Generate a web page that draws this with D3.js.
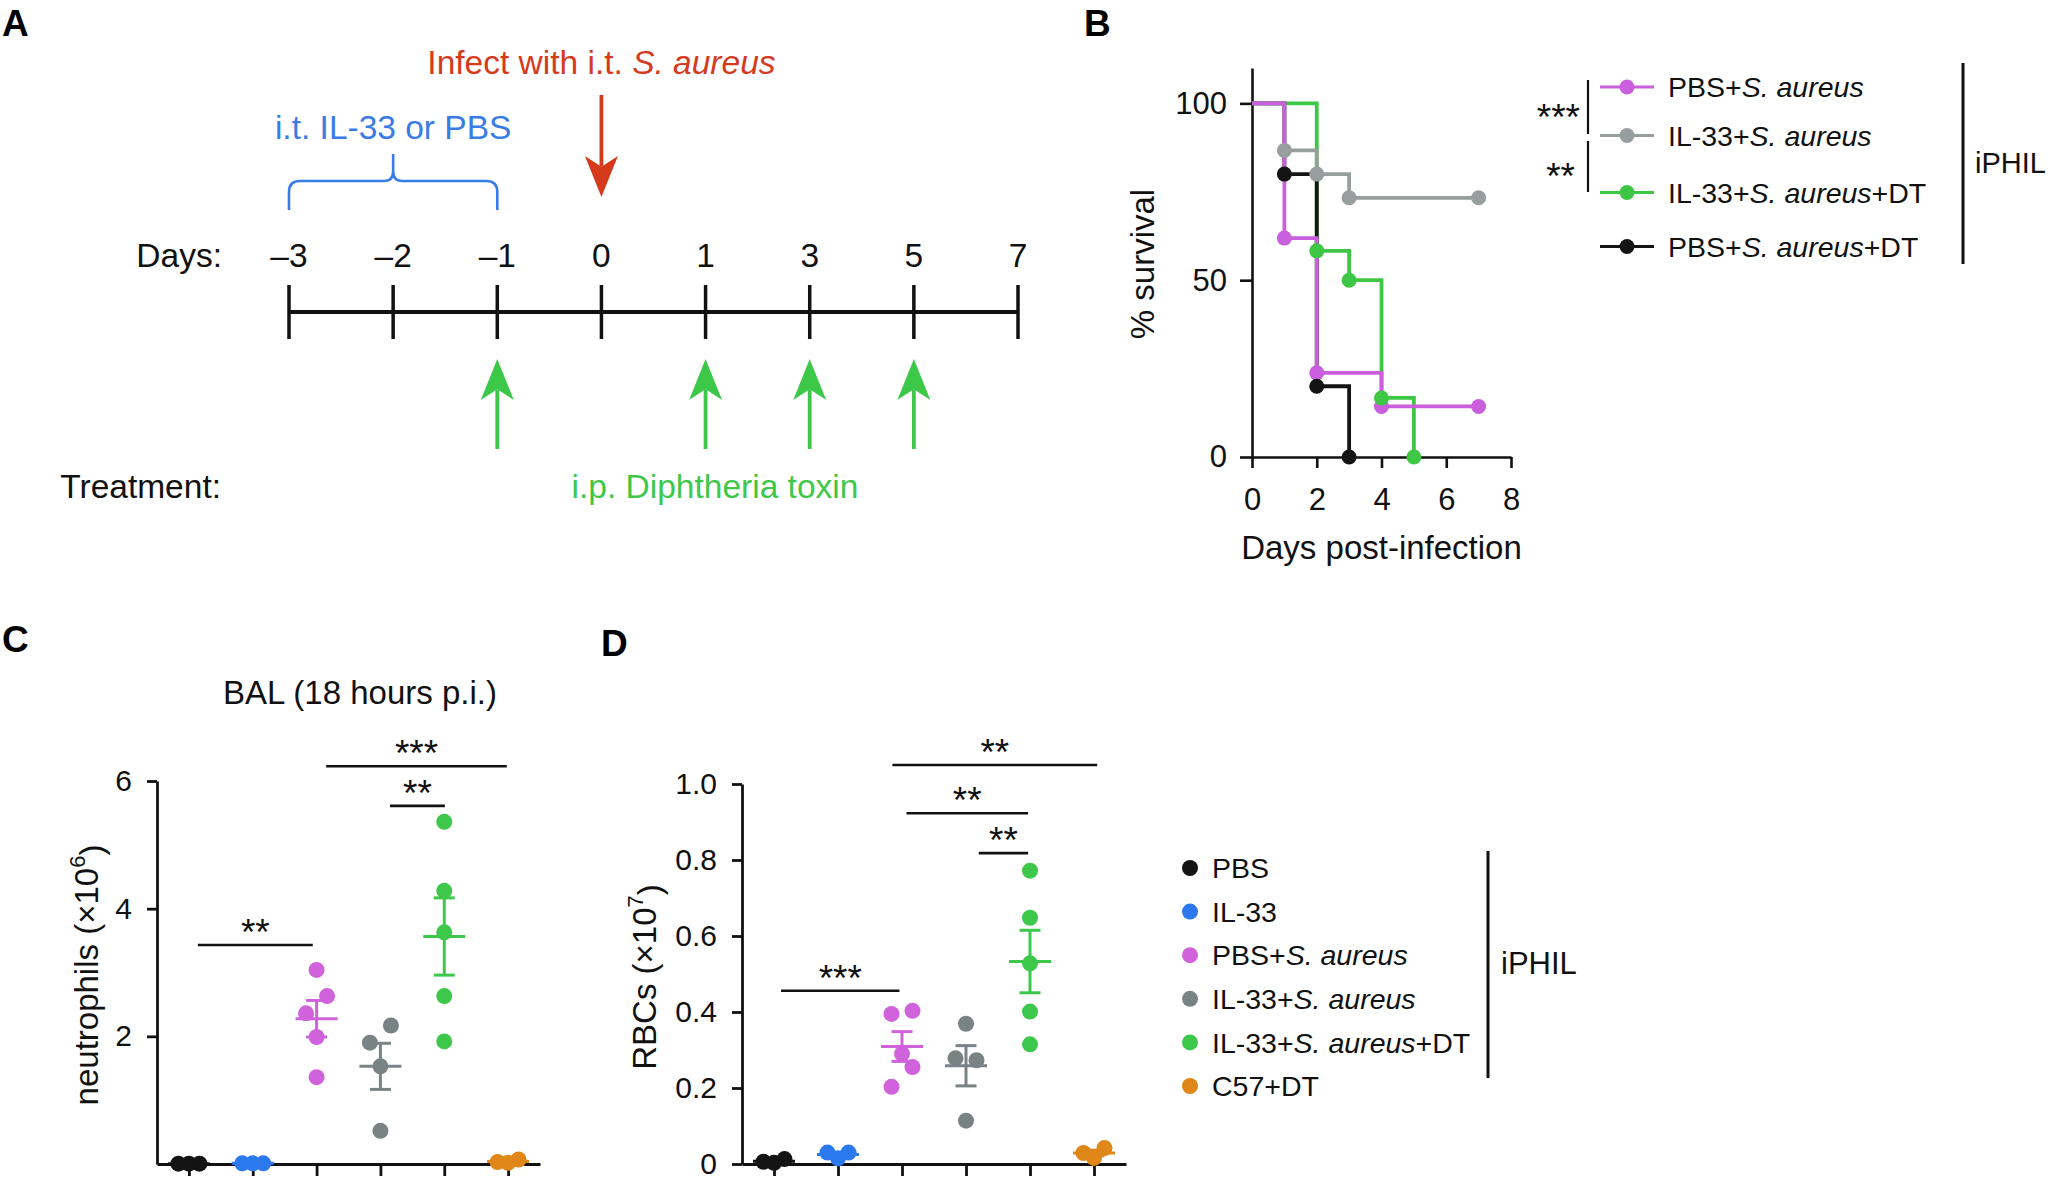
<!DOCTYPE html>
<html><head><meta charset="utf-8"><title>IL-33 / S. aureus figure</title>
<script src="https://cdn.jsdelivr.net/npm/d3@7/dist/d3.min.js"></script>
<style>
html,body{margin:0;padding:0;background:#fff;}
svg{display:block;font-family:"Liberation Sans",Arial,Helvetica,sans-serif;}
</style></head>
<body>
<svg id="fig" width="2048" height="1183" viewBox="0 0 2048 1183"></svg>
<script>
// ================= DATA =================
// Panel A – timeline
const timelineDays = ["–3","–2","–1","0","1","3","5","7"];
const il33Days = ["–3","–1"];
const infectionDay = "0";
const dtDays = ["–1","1","3","5"];

// Panel B – survival (day, % survival)
const survivalGroups = ["PBS+S. aureus","IL-33+S. aureus","IL-33+S. aureus+DT","PBS+S. aureus+DT"];
const survivalPBS    = [[0,100],[1,61.9],[2,23.8],[4,14.3],[7,14.3]];
const survivalIL33   = [[0,100],[1,86.7],[2,80.0],[3,73.3],[7,73.3]];
const survivalIL33DT = [[0,100],[2,58.3],[3,50.0],[4,16.7],[5,0]];
const survivalPBSDT  = [[0,100],[1,80.0],[2,20.0],[3,0]];
const survivalXTicks = [0,2,4,6,8];
const survivalYTicks = [0,50,100];
const survivalSig = [{rows:[0,1],label:"***"},{rows:[1,2],label:"**"}];

// Panels C/D – groups
const groups = ["PBS","IL-33","PBS+S. aureus","IL-33+S. aureus","IL-33+S. aureus+DT","C57+DT"];

// Panel C – neutrophils (x10^6)
const neutPBS      = [0.005,0.005,0.005];
const neutIL33     = [0.01,0.01,0.01];
const neutPBSSa    = [3.04,2.36,2.63,1.99,1.36];
const neutIL33Sa   = [1.90,2.17,1.53,0.52];
const neutIL33SaDT = [5.36,4.28,3.63,2.63,1.92];
const neutC57DT    = [0.03,0.07,0.02];
const neutTicks = [2,4,6];
const neutSig = [
  {from:0.14,to:1.94,level:3.43,label:"**"},
  {from:2.15,to:4.98,level:6.23,label:"***"},
  {from:3.15,to:4.01,level:5.61,label:"**"}
];

// Panel D – RBCs (x10^7)
const rbcPBS      = [0.006,0.013,0.003];
const rbcIL33     = [0.030,0.030,0.015];
const rbcPBSSa    = [0.203,0.255,0.290,0.395,0.403];
const rbcIL33Sa   = [0.369,0.278,0.273,0.114];
const rbcIL33SaDT = [0.772,0.648,0.528,0.401,0.315];
const rbcC57DT    = [0.029,0.042,0.016];
const rbcTicks = [0,0.2,0.4,0.6,0.8,1.0];
const rbcSig = [
  {from:0.11,to:1.96,level:0.456,label:"***"},
  {from:1.85,to:5.05,level:1.05,label:"**"},
  {from:2.07,to:3.97,level:0.923,label:"**"},
  {from:3.20,to:3.97,level:0.818,label:"**"}
];

// ================= STYLE =================
const colGroup = ["#141414","#2c79ee","#d062dc","#7a8383","#3ec84b","#e0871a"];
const colSurv  = ["#c95fdc","#989d9d","#3ec744","#141414"];
const RED = "#d63a1d", BLUE = "#3a7ce6", GREEN = "#3dc84a";

const svg = d3.select("#fig");
const cap = (c, fs) => c + 0.358*fs;      // baseline for a given cap-centre
const star = (c, fs) => c + 0.59*fs;      // baseline for asterisks centred at c

function richText(g, str, x, yBase, fs, anchor, fill){
  const t = g.append("text").attr("x",x).attr("y",yBase).attr("font-size",fs)
    .attr("text-anchor",anchor||"start").attr("fill",fill||"#111");
  const parts = str.split("S. aureus");
  parts.forEach((seg,i)=>{
    if(seg) t.append("tspan").text(seg);
    if(i<parts.length-1) t.append("tspan").attr("font-style","italic").text("S. aureus");
  });
  return t;
}
function panelLabel(txt,x,c){
  svg.append("text").attr("x",x).attr("y",cap(c,37)).attr("font-size",37)
    .attr("font-weight","bold").attr("fill","#000").text(txt);
}

// ================= PANEL A =================
(function(){
  const g = svg.append("g");
  const fs = 33.5;
  const x = d3.scalePoint().domain(timelineDays).range([289,1018]);
  const lineY = 312;
  g.append("line").attr("x1",x(timelineDays[0])).attr("x2",x(timelineDays[timelineDays.length-1]))
    .attr("y1",lineY).attr("y2",lineY).attr("stroke","#111").attr("stroke-width",4);
  g.selectAll(".tk").data(timelineDays).join("line")
    .attr("x1",d=>x(d)).attr("x2",d=>x(d)).attr("y1",285).attr("y2",339)
    .attr("stroke","#111").attr("stroke-width",3.5);
  g.selectAll(".tl").data(timelineDays).join("text")
    .attr("x",d=>x(d)).attr("y",cap(255,fs)).attr("font-size",fs).attr("text-anchor","middle")
    .attr("fill","#111").text(d=>d);
  g.append("text").attr("x",222).attr("y",cap(255,fs)).attr("font-size",fs).attr("text-anchor","end")
    .attr("fill","#111").text("Days:");
  g.append("text").attr("x",221).attr("y",cap(486,fs)).attr("font-size",fs).attr("text-anchor","end")
    .attr("fill","#111").text("Treatment:");

  // blue brace over IL-33 days
  const x1 = x(il33Days[0]), x2 = x(il33Days[1]), xm = (x1+x2)/2;
  const by = 181;
  const brace = `M${x1},210 V${by+11} Q${x1},${by} ${x1+11},${by} H${xm-9} Q${xm},${by} ${xm},${by-10} V154`
              + ` M${xm},154 V${by-10} Q${xm},${by} ${xm+9},${by} H${x2-11} Q${x2},${by} ${x2},${by+11} V210`;
  g.append("path").attr("d",brace).attr("fill","none").attr("stroke",BLUE).attr("stroke-width",2.6);
  g.append("text").attr("x",xm).attr("y",cap(127,fs)).attr("font-size",fs).attr("text-anchor","middle")
    .attr("fill",BLUE).text("i.t. IL-33 or PBS");

  // arrows
  function arrow(cx, tipY, dir, shaftEnd, color){
    const L = 41, W = 33;
    const b = tipY - dir*L, n = tipY - dir*L*0.74;
    g.append("line").attr("x1",cx).attr("x2",cx).attr("y1",n).attr("y2",shaftEnd)
      .attr("stroke",color).attr("stroke-width",3.8);
    g.append("path").attr("d",`M${cx},${tipY} L${cx+W/2},${b} L${cx},${n} L${cx-W/2},${b} Z`).attr("fill",color);
  }
  arrow(x(infectionDay), 197, 1, 95, RED);
  richText(g, "Infect with i.t. S. aureus", x(infectionDay), cap(62,fs), fs, "middle", RED);
  dtDays.forEach(d=>arrow(x(d), 359, -1, 449, GREEN));
  g.append("text").attr("x",715).attr("y",cap(486,fs)).attr("font-size",fs).attr("text-anchor","middle")
    .attr("fill",GREEN).text("i.p. Diphtheria toxin");
})();
panelLabel("A",2,23);

// ================= PANEL B =================
(function(){
  const g = svg.append("g");
  const x = d3.scaleLinear().domain([0,8]).range([1252,1511]);
  const y = d3.scaleLinear().domain([0,110]).range([457,68]);
  const tfs = 31;
  const ax = g.append("g").attr("transform",`translate(0,${y(0)})`)
    .call(d3.axisBottom(x).tickValues(survivalXTicks).tickSize(11).tickSizeOuter(0).tickPadding(20));
  const ay = g.append("g").attr("transform",`translate(${x(0)},0)`)
    .call(d3.axisLeft(y).tickValues(survivalYTicks).tickSize(12).tickSizeOuter(0).tickPadding(13));
  [ax,ay].forEach(a=>{
    a.selectAll("path,line").attr("stroke","#111").attr("stroke-width",2.6);
    a.selectAll("text").attr("font-size",tfs).attr("fill","#111").attr("font-family",null);
  });
  g.append("text").attr("x",(x(0)+x(8))/2).attr("y",cap(547,33)).attr("font-size",33)
    .attr("text-anchor","middle").attr("fill","#111").text("Days post-infection");
  g.append("text").attr("transform",`translate(1142,${264}) rotate(-90)`).attr("font-size",33)
    .attr("text-anchor","middle").attr("dominant-baseline","central").attr("fill","#111").text("% survival");

  const series = [survivalPBS, survivalIL33, survivalIL33DT, survivalPBSDT];
  const line = d3.line().x(d=>x(d[0])).y(d=>y(d[1])).curve(d3.curveStepAfter);
  const drawOrder = [2,3,1,0];
  drawOrder.forEach(i=>{
    g.append("path").attr("d",line(series[i])).attr("fill","none")
      .attr("stroke",colSurv[i]).attr("stroke-width",3.8);
  });
  [0,2,3,1].forEach(i=>{
    g.selectAll(null).data(series[i].slice(1)).join("circle")
      .attr("cx",d=>x(d[0])).attr("cy",d=>y(d[1])).attr("r",7.5).attr("fill",colSurv[i]);
  });

  // legend
  const rows = [87,135.5,192.5,246.5];
  const lfs = 28.5;
  survivalGroups.forEach((name,i)=>{
    g.append("line").attr("x1",1600).attr("x2",1654).attr("y1",rows[i]).attr("y2",rows[i])
      .attr("stroke",colSurv[i]).attr("stroke-width",3.2);
    g.append("circle").attr("cx",1627).attr("cy",rows[i]).attr("r",7.5).attr("fill",colSurv[i]);
    richText(g, name, 1668, cap(rows[i],lfs), lfs, "start", "#111");
  });
  const segs = [[80,134],[141,192]];
  survivalSig.forEach((s,k)=>{
    g.append("line").attr("x1",1588).attr("x2",1588).attr("y1",segs[k][0]).attr("y2",segs[k][1])
      .attr("stroke","#111").attr("stroke-width",2.2);
    g.append("text").attr("x",k===0?1580:1575).attr("y",star((segs[k][0]+segs[k][1])/2+1,37))
      .attr("font-size",37).attr("text-anchor","end").attr("fill","#111").text(s.label);
  });
  g.append("line").attr("x1",1963).attr("x2",1963).attr("y1",63).attr("y2",264)
    .attr("stroke","#111").attr("stroke-width",3);
  g.append("text").attr("x",1975).attr("y",cap(163,29)).attr("font-size",29).attr("fill","#111").text("iPHIL");
})();
panelLabel("B",1084,23);

// ================= PANELS C & D =================
function spread(values, y, band, step){
  const idx = values.map((v,i)=>i).sort((a,b)=>values[a]-values[b]);
  const offs = values.map(()=>0);
  const bands = []; let cur = [idx[0]];
  for(let k=1;k<idx.length;k++){
    if(Math.abs(y(values[idx[k]])-y(values[idx[k-1]])) < band) cur.push(idx[k]);
    else { bands.push(cur); cur=[idx[k]]; }
  }
  bands.push(cur);
  bands.forEach(b=>{
    const n = b.length; if(n<2) return;
    b.sort((a,c)=>a-c);
    const slots=[]; for(let k=1; slots.length < n-(n%2); k++) slots.push(-k*step, k*step);
    if(n%2) slots.push(0);
    b.forEach((i,j)=>offs[i]=slots[j]);
  });
  return offs;
}

function dotPlot(opt){
  const g = svg.append("g");
  const x = d3.scalePoint().domain(groups).range([opt.x0, opt.x1]).padding(0.5);
  const y = d3.scaleLinear().domain(opt.domain).range([1164, opt.yTop]);
  const idx = d3.scaleLinear().domain([0,groups.length-1]).range([x(groups[0]), x(groups[groups.length-1])]);

  const ax = g.append("g").attr("transform",`translate(0,${y(0)})`)
    .call(d3.axisBottom(x).tickSize(12).tickSizeOuter(0).tickFormat(""));
  const ay = g.append("g").attr("transform",`translate(${opt.x0},0)`)
    .call(d3.axisLeft(y).tickValues(opt.ticks).tickSize(10).tickSizeOuter(0).tickPadding(15).tickFormat(opt.fmt));
  [ax,ay].forEach(a=>{
    a.selectAll("path,line").attr("stroke","#111").attr("stroke-width",2.8);
    a.selectAll("text").attr("font-size",30).attr("fill","#111").attr("font-family",null);
  });

  // y label with superscript
  const yl = g.append("text").attr("transform",`translate(${opt.labelX},${opt.labelY}) rotate(-90)`)
    .attr("font-size",33).attr("text-anchor","middle").attr("dominant-baseline","central").attr("fill","#111");
  yl.append("tspan").text(opt.label);
  yl.append("tspan").attr("dy","-0.42em").attr("font-size",22).text(opt.sup);
  yl.append("tspan").attr("dy","0.42em").text(")");

  opt.series.forEach((vals,gi)=>{
    const cx = x(groups[gi]);
    const offs = spread(vals, y, 20, 10.5);
    g.selectAll(null).data(vals).join("circle")
      .attr("cx",(d,i)=>cx+offs[i]).attr("cy",d=>y(d)).attr("r",8).attr("fill",colGroup[gi]);
    const m = d3.mean(vals), se = d3.deviation(vals)/Math.sqrt(vals.length);
    const sg = g.append("g").attr("stroke",colGroup[gi]).attr("stroke-width",3);
    sg.append("line").attr("x1",cx-21).attr("x2",cx+21).attr("y1",y(m)).attr("y2",y(m));
    sg.append("line").attr("x1",cx).attr("x2",cx).attr("y1",y(m-se)).attr("y2",y(m+se));
    sg.append("line").attr("x1",cx-10.5).attr("x2",cx+10.5).attr("y1",y(m-se)).attr("y2",y(m-se));
    sg.append("line").attr("x1",cx-10.5).attr("x2",cx+10.5).attr("y1",y(m+se)).attr("y2",y(m+se));
  });

  opt.sig.forEach(s=>{
    const yy = y(s.level);
    g.append("line").attr("x1",idx(s.from)).attr("x2",idx(s.to)).attr("y1",yy).attr("y2",yy)
      .attr("stroke","#111").attr("stroke-width",2.6);
    g.append("text").attr("x",(idx(s.from)+idx(s.to))/2).attr("y",star(yy-22,37)).attr("font-size",37)
      .attr("text-anchor","middle").attr("fill","#111").text(s.label);
  });
  return g;
}

const gC = dotPlot({
  x0:157, x1:540, domain:[0,6], yTop:781, ticks:neutTicks, fmt:d3.format("d"),
  label:"neutrophils (×10", sup:"6", labelX:86, labelY:975,
  series:[neutPBS,neutIL33,neutPBSSa,neutIL33Sa,neutIL33SaDT,neutC57DT], sig:neutSig
});
gC.append("text").attr("x",360).attr("y",cap(692,33)).attr("font-size",33).attr("text-anchor","middle")
  .attr("fill","#111").text("BAL (18 hours p.i.)");
panelLabel("C",2,639);

dotPlot({
  x0:742, x1:1126, domain:[0,1], yTop:784, ticks:rbcTicks, fmt:d=>d===0?"0":d3.format(".1f")(d),
  label:"RBCs (×10", sup:"7", labelX:644, labelY:977,
  series:[rbcPBS,rbcIL33,rbcPBSSa,rbcIL33Sa,rbcIL33SaDT,rbcC57DT], sig:rbcSig
});
panelLabel("D",601,643);

// legend for C/D
(function(){
  const g = svg.append("g");
  const lfs = 28.5;
  groups.forEach((name,i)=>{
    const cy = 868 + i*43.6;
    g.append("circle").attr("cx",1190).attr("cy",cy).attr("r",8).attr("fill",colGroup[i]);
    richText(g, name, 1212, cap(cy,lfs), lfs, "start", "#111");
  });
  g.append("line").attr("x1",1488).attr("x2",1488).attr("y1",851).attr("y2",1078)
    .attr("stroke","#111").attr("stroke-width",3);
  g.append("text").attr("x",1501).attr("y",cap(963,31)).attr("font-size",31).attr("fill","#111").text("iPHIL");
})();
</script>
</body></html>
